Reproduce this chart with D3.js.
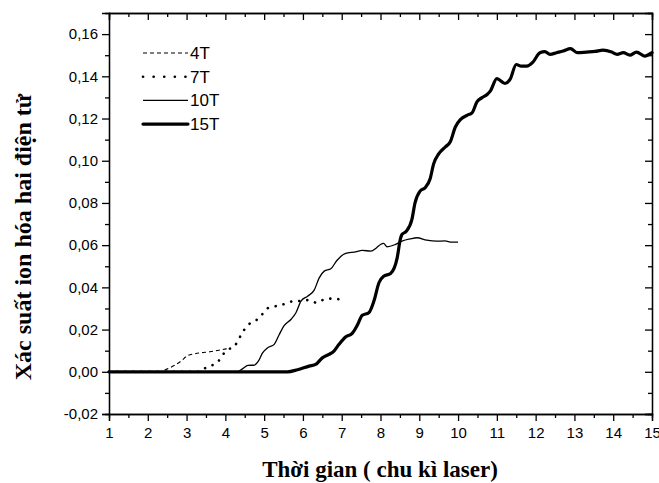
<!DOCTYPE html>
<html>
<head>
<meta charset="utf-8">
<style>
  body { margin: 0; background: #fff; }
  .axis text { font-family: "Liberation Sans", Arial, sans-serif; font-size: 15px; fill: #000; }
  .axis path, .axis line { stroke: #000; stroke-width: 1.3; }
</style>
<title>Xác suất ion hóa hai điện tử</title>
</head>
<body>
<script src="https://cdn.jsdelivr.net/npm/d3@7/dist/d3.min.js"></script>
<script>
// data
var x4T = [1, 2.3, 2.45, 2.68, 2.85, 3.03, 3.2, 3.37, 3.6, 3.88, 4.05];
var y4T = [0, 0, 0.001, 0.003, 0.005, 0.0077, 0.0085, 0.009, 0.0095, 0.0104, 0.011];

var x7T = [1, 3.35, 3.46, 3.65, 3.82, 3.93, 4.08, 4.23, 4.36, 4.49, 4.62, 4.8, 4.94, 5.08, 5.28, 5.5, 5.71, 5.95, 6.16, 6.35, 6.55, 6.78, 7.0];
var y7T = [0, 0, 0.0015, 0.003, 0.005, 0.008, 0.0106, 0.012, 0.016, 0.02, 0.0227, 0.0245, 0.027, 0.03, 0.031, 0.032, 0.0333, 0.0336, 0.034, 0.0327, 0.0343, 0.0347, 0.034];

var x10T = [1, 4.3, 4.45, 4.58, 4.75, 4.85, 4.96, 5.09, 5.26, 5.39, 5.52, 5.69, 5.82, 5.95, 6.12, 6.29, 6.42, 6.55, 6.72, 6.87, 7.04, 7.19, 7.32, 7.53, 7.75, 7.9, 8.0, 8.08, 8.17, 8.38, 8.55, 8.77, 8.94, 9.19, 9.45, 9.66, 9.84, 10.0];
var y10T = [0, 0, 0.0015, 0.003, 0.0032, 0.005, 0.009, 0.0114, 0.013, 0.0177, 0.022, 0.0248, 0.028, 0.0335, 0.0358, 0.0387, 0.0445, 0.0477, 0.0488, 0.0526, 0.0556, 0.0565, 0.0567, 0.0575, 0.0572, 0.0588, 0.0603, 0.0608, 0.0592, 0.0603, 0.0619, 0.063, 0.0635, 0.0624, 0.0619, 0.062, 0.0614, 0.0614];

var x15T = [1, 5.6, 5.86, 6.16, 6.33, 6.5, 6.67, 6.8, 6.93, 7.1, 7.27, 7.4, 7.53, 7.7, 7.83, 7.96, 8.08, 8.26, 8.43, 8.51, 8.55, 8.66, 8.81, 8.89, 9.02, 9.15, 9.28, 9.37, 9.5, 9.67, 9.8, 9.93, 10.06, 10.23, 10.36, 10.49, 10.62, 10.75, 10.83, 11.0, 11.21, 11.34, 11.5, 11.63, 11.77, 11.93, 12.11, 12.24, 12.37, 12.54, 12.71, 12.9, 13.07, 13.31, 13.53, 13.74, 13.96, 14.1, 14.26, 14.43, 14.6, 14.81, 15.0];
var y15T = [0, 0, 0.001, 0.0027, 0.0035, 0.0066, 0.0082, 0.0098, 0.013, 0.0165, 0.0182, 0.022, 0.0268, 0.028, 0.0335, 0.0422, 0.0453, 0.0466, 0.054, 0.0627, 0.065, 0.0665, 0.0722, 0.08, 0.0856, 0.0872, 0.0915, 0.0985, 0.1032, 0.1065, 0.109, 0.116, 0.1195, 0.1215, 0.1227, 0.128, 0.1299, 0.1314, 0.133, 0.1389, 0.1366, 0.1385, 0.1456, 0.1448, 0.1448, 0.1467, 0.1512, 0.1517, 0.1504, 0.1512, 0.152, 0.1531, 0.1512, 0.1515, 0.1518, 0.1524, 0.1515, 0.1504, 0.1512, 0.15, 0.1515, 0.1496, 0.1512];

var seriesNames = ["4T", "7T", "10T", "15T"];
var xTicks = [1, 2, 3, 4, 5, 6, 7, 8, 9, 10, 11, 12, 13, 14, 15];
var yTicks = [-0.02, 0, 0.02, 0.04, 0.06, 0.08, 0.10, 0.12, 0.14, 0.16];

// dimensions
var margin = {top: 13, right: 7, bottom: 69, left: 109},
    width = 659 - margin.left - margin.right,
    height = 483 - margin.top - margin.bottom;

var svg = d3.select("body").append("svg")
    .attr("width", 659)
    .attr("height", 483)
  .append("g")
    .attr("transform", "translate(" + margin.left + "," + margin.top + ")");

var x = d3.scaleLinear().domain([1, 15]).range([0, width]);
var y = d3.scaleLinear().domain([-0.02, 0.17]).range([height, 0]);

function fmt(d) {
  return (d < 0 ? "-" : "") + Math.abs(d).toFixed(2).replace(".", ",");
}

var xMinor = d3.range(1.5, 15, 1);
var yMinor = d3.range(-0.01, 0.17, 0.02);

// bottom axis (outward ticks)
svg.append("g").attr("class", "axis").attr("transform", "translate(0," + height + ")")
  .call(d3.axisBottom(x).tickValues(xTicks).tickSize(7).tickPadding(6).tickFormat(d3.format("d")));
svg.append("g").attr("class", "axis").attr("transform", "translate(0," + height + ")")
  .call(d3.axisBottom(x).tickValues(xMinor).tickSize(4).tickFormat(""));

// left axis
svg.append("g").attr("class", "axis")
  .call(d3.axisLeft(y).tickValues(yTicks).tickSize(7).tickPadding(4).tickFormat(fmt));
svg.append("g").attr("class", "axis")
  .call(d3.axisLeft(y).tickValues(yMinor).tickSize(4).tickFormat(""));

// top axis (inward ticks)
svg.append("g").attr("class", "axis")
  .call(d3.axisTop(x).tickValues(xTicks).tickSize(-7).tickFormat(""));
svg.append("g").attr("class", "axis")
  .call(d3.axisTop(x).tickValues(xMinor).tickSize(-4).tickFormat(""));

// right axis (inward ticks)
svg.append("g").attr("class", "axis").attr("transform", "translate(" + width + ",0)")
  .call(d3.axisRight(y).tickValues(yTicks).tickSize(-7).tickFormat(""));
svg.append("g").attr("class", "axis").attr("transform", "translate(" + width + ",0)")
  .call(d3.axisRight(y).tickValues(yMinor).tickSize(-4).tickFormat(""));

svg.selectAll(".axis .domain").attr("stroke-width", 1.5);

// lines
var line = d3.line()
  .x(function(d) { return x(d[0]); })
  .y(function(d) { return y(d[1]); })
  .curve(d3.curveMonotoneX);

var styles = {
  "4T":  {w: 1.1, dash: "4,3", cap: "butt"},
  "7T":  {w: 2.6, dash: "0.1,8", cap: "round"},
  "10T": {w: 1.3, dash: null, cap: "butt"},
  "15T": {w: 3.2, dash: null, cap: "round"}
};
var series = {
  "4T": d3.zip(x4T, y4T),
  "7T": d3.zip(x7T, y7T),
  "10T": d3.zip(x10T, y10T),
  "15T": d3.zip(x15T, y15T)
};

seriesNames.forEach(function(name) {
  var s = styles[name];
  svg.append("path")
    .datum(series[name])
    .attr("fill", "none")
    .attr("stroke", "#000")
    .attr("stroke-width", s.w)
    .attr("stroke-linecap", s.cap)
    .attr("stroke-linejoin", "round")
    .attr("stroke-dasharray", s.dash)
    .attr("d", line);
});

// legend
var legend = svg.append("g").attr("transform", "translate(34,40)");
var legendDash = {"4T": "4,3", "7T": "0.1,10.5", "10T": null, "15T": null};
seriesNames.forEach(function(name, i) {
  var s = styles[name];
  var gy = i * 23.7;
  legend.append("line")
    .attr("x1", 0).attr("x2", 45)
    .attr("y1", gy).attr("y2", gy)
    .attr("stroke", "#000")
    .attr("stroke-width", s.w)
    .attr("stroke-linecap", s.cap)
    .attr("stroke-dasharray", legendDash[name]);
  legend.append("text")
    .attr("x", 47).attr("y", gy + 6)
    .attr("font-family", "Liberation Sans, Arial, sans-serif")
    .attr("font-size", "17px")
    .text(name);
});

// axis titles
svg.append("text")
  .attr("x", 271).attr("y", height + 63)
  .attr("text-anchor", "middle")
  .attr("font-family", "Liberation Serif, Times New Roman, serif")
  .attr("font-weight", "bold")
  .attr("font-size", "23px")
  .text("Thời gian ( chu kì laser)");

svg.append("text")
  .attr("transform", "rotate(-90)")
  .attr("x", -224).attr("y", -78)
  .attr("text-anchor", "middle")
  .attr("font-family", "Liberation Serif, Times New Roman, serif")
  .attr("font-weight", "bold")
  .attr("font-size", "24px")
  .text("Xác suất ion hóa hai điện tử");
</script>
</body>
</html>
